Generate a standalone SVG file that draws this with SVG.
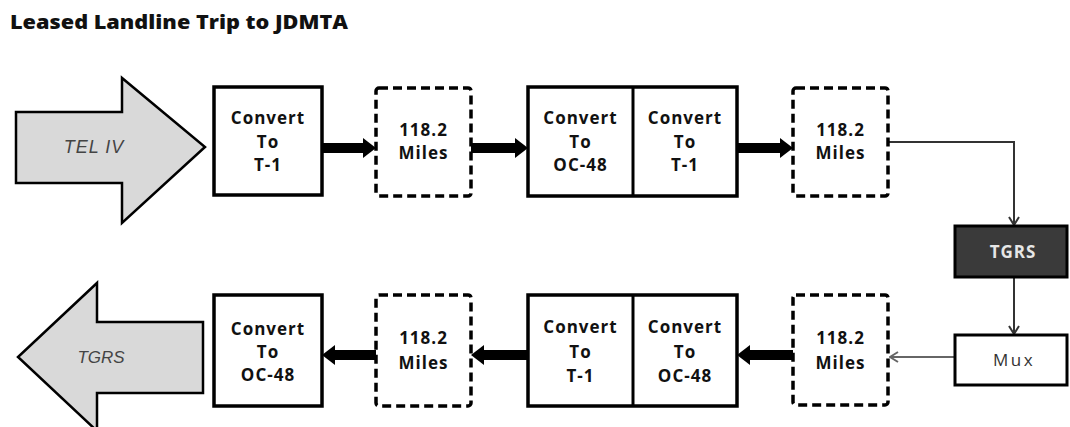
<svg xmlns="http://www.w3.org/2000/svg" width="1070" height="427" viewBox="0 0 1070 427">
<style>
.title{font-family:"Open Sans","Liberation Sans",sans-serif;font-weight:800;font-size:20px;fill:#111}
.lbl{font-family:"Open Sans","Liberation Sans",sans-serif;font-weight:bold;font-size:17px;fill:#111;text-anchor:middle;letter-spacing:1px}
.big{fill:#d9d9d9;stroke:#000;stroke-width:2.5;stroke-linejoin:miter}
.bigt{font-family:"Liberation Sans",Arial,sans-serif;font-style:italic;font-size:18px;fill:#444;text-anchor:middle}
.solid{fill:#fff;stroke:#000;stroke-width:3.5}
.dash{fill:#fff;stroke:#000;stroke-width:3.5;stroke-dasharray:9 5}
.thick{stroke:#000;stroke-width:10;fill:none}
.thin{stroke:#333;stroke-width:2;fill:none}
</style>
<defs>
<marker id="hd" viewBox="0 0 13 20" refX="0" refY="10" markerWidth="13" markerHeight="20" markerUnits="userSpaceOnUse" orient="auto">
<path d="M0,0 L13,10 L0,20 Z" fill="#000"/>
</marker>
<marker id="ch" viewBox="0 0 10 12" refX="9" refY="6" markerWidth="10" markerHeight="12" markerUnits="userSpaceOnUse" orient="auto">
<path d="M1,1 L9,6 L1,11" fill="none" stroke="#333" stroke-width="2"/>
</marker>
<marker id="chg" viewBox="0 0 10 12" refX="9" refY="6" markerWidth="10" markerHeight="12" markerUnits="userSpaceOnUse" orient="auto">
<path d="M1,1 L9,6 L1,11" fill="none" stroke="#666" stroke-width="2"/>
</marker>
</defs>
<rect width="1070" height="427" fill="#fff"/>
<text class="title" x="10" y="29" textLength="338" lengthAdjust="spacingAndGlyphs">Leased Landline Trip to JDMTA</text>

<g id="connectors">
<line class="thick" x1="322" y1="148" x2="363" y2="148" marker-end="url(#hd)"/>
<line class="thick" x1="471" y1="148" x2="515" y2="148" marker-end="url(#hd)"/>
<line class="thick" x1="737" y1="148" x2="780" y2="148" marker-end="url(#hd)"/>
<polyline class="thin" points="889,142 1014,142 1014,225" marker-end="url(#ch)"/>
<line class="thin" x1="1014" y1="277" x2="1014" y2="334" marker-end="url(#ch)"/>
<line x1="955" y1="357" x2="890" y2="357" stroke="#666" stroke-width="2" marker-end="url(#chg)"/>
<line class="thick" x1="793" y1="355" x2="750" y2="355" marker-end="url(#hd)"/>
<line class="thick" x1="528" y1="355" x2="484" y2="355" marker-end="url(#hd)"/>
<line class="thick" x1="376" y1="355" x2="335" y2="355" marker-end="url(#hd)"/>
</g>

<g id="teliv">
<polygon class="big" points="16,112 122,112 122,78 205,147 122,223 122,183 16,183"/>
<text class="bigt" x="94" y="153" letter-spacing="1">TEL IV</text>
</g>
<g id="c1">
<rect class="solid" x="214" y="87" width="108" height="108"/>
<text class="lbl" x="268" y="124">Convert</text>
<text class="lbl" x="268" y="148">To</text>
<text class="lbl" x="268" y="171">T-1</text>
</g>
<g id="m1">
<rect class="dash" x="376" y="88" width="95" height="108" rx="3"/>
<text class="lbl" x="423.5" y="136">118.2</text>
<text class="lbl" x="423.5" y="159">Miles</text>
</g>
<g id="c2">
<rect class="solid" x="528" y="87" width="209" height="109"/>
<line x1="633" y1="87" x2="633" y2="196" stroke="#000" stroke-width="3"/>
<text class="lbl" x="580.5" y="124">Convert</text>
<text class="lbl" x="580.5" y="148">To</text>
<text class="lbl" x="580.5" y="171">OC-48</text>
<text class="lbl" x="685" y="124">Convert</text>
<text class="lbl" x="685" y="148">To</text>
<text class="lbl" x="685" y="171">T-1</text>
</g>
<g id="m2">
<rect class="dash" x="793" y="88" width="95" height="108" rx="3"/>
<text class="lbl" x="840.5" y="136">118.2</text>
<text class="lbl" x="840.5" y="159">Miles</text>
</g>
<g id="tgrsbox">
<rect x="955" y="226" width="112" height="51" fill="#3a3a3a" stroke="#000" stroke-width="3"/>
<text class="lbl" x="1013" y="258" style="fill:#e6e6e6">TGRS</text>
</g>
<g id="mux">
<rect x="955" y="335" width="112" height="50" fill="#fff" stroke="#000" stroke-width="3"/>
<text x="1014" y="366" font-family="Open Sans, Liberation Sans, sans-serif" font-size="17" fill="#333" text-anchor="middle" letter-spacing="2.5">Mux</text>
</g>
<g id="m3">
<rect class="dash" x="793" y="295" width="95" height="110" rx="3"/>
<text class="lbl" x="840.5" y="344">118.2</text>
<text class="lbl" x="840.5" y="369">Miles</text>
</g>
<g id="c3">
<rect class="solid" x="528" y="295" width="209" height="111"/>
<line x1="633" y1="295" x2="633" y2="406" stroke="#000" stroke-width="3"/>
<text class="lbl" x="580.5" y="333">Convert</text>
<text class="lbl" x="580.5" y="358">To</text>
<text class="lbl" x="580.5" y="382">T-1</text>
<text class="lbl" x="685" y="333">Convert</text>
<text class="lbl" x="685" y="358">To</text>
<text class="lbl" x="685" y="382">OC-48</text>
</g>
<g id="m4">
<rect class="dash" x="376" y="295" width="95" height="111" rx="3"/>
<text class="lbl" x="423.5" y="344">118.2</text>
<text class="lbl" x="423.5" y="369">Miles</text>
</g>
<g id="c4">
<rect class="solid" x="214" y="295" width="108" height="111"/>
<text class="lbl" x="268" y="335">Convert</text>
<text class="lbl" x="268" y="358">To</text>
<text class="lbl" x="268" y="381">OC-48</text>
</g>
<g id="tgrs">
<polygon class="big" points="203,322 97,322 97,283 18,357 97,431 97,393 203,393"/>
<text class="bigt" x="101" y="363" style="font-size:17px">TGRS</text>
</g>
</svg>
